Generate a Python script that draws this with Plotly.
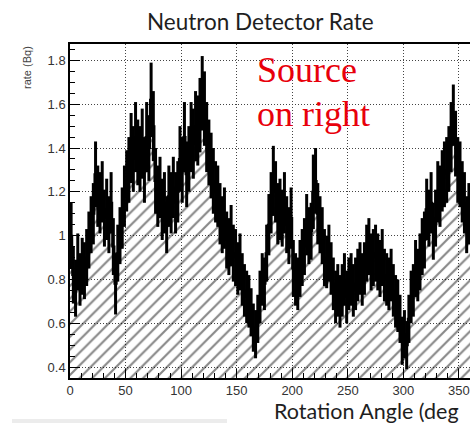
import plotly.graph_objects as go

# Histogram: 2-degree bins, 0..360 degrees
bin_width = 2
bin_centers = [1 + bin_width * i for i in range(180)]

rate = [
    1.00, 0.82, 0.76, 0.88, 0.80, 0.86, 0.84, 0.90, 0.98, 1.05,
    1.10, 1.28, 1.18, 1.15, 1.20, 1.08, 1.12, 1.05, 1.15, 0.95,
    0.78, 0.92, 1.00, 1.08, 1.18, 1.25, 1.30, 1.40, 1.35, 1.45,
    1.38, 1.35, 1.42, 1.30, 1.45, 1.40, 1.62, 1.50, 1.25, 1.18,
    1.22, 1.12, 1.15, 1.05, 1.18, 1.15, 1.22, 1.15, 1.20, 1.35,
    1.30, 1.45, 1.28, 1.35, 1.45, 1.42, 1.50, 1.48, 1.55, 1.65,
    1.58, 1.45, 1.38, 1.32, 1.25, 1.20, 1.18, 1.10, 1.05, 1.08,
    0.98, 0.95, 1.00, 0.92, 0.90, 0.85, 0.88, 0.80, 0.75, 0.72,
    0.70, 0.65, 0.58, 0.55, 0.62, 0.72, 0.80, 0.78, 0.92, 1.05,
    1.15, 1.25, 1.20, 1.10, 1.12, 1.08, 1.15, 1.05, 1.00, 1.08,
    0.85, 0.80, 0.78, 0.85, 0.90, 0.95, 1.05, 1.00, 1.02, 1.20,
    1.25, 1.10, 1.05, 1.00, 0.90, 0.88, 0.92, 0.85, 0.78, 0.72,
    0.75, 0.70, 0.75, 0.80, 0.72, 0.78, 0.80, 0.75, 0.78, 0.82,
    0.85, 0.80, 0.85, 0.92, 0.95, 0.88, 0.90, 0.92, 0.88, 0.85,
    0.90, 0.82, 0.80, 0.78, 0.82, 0.75, 0.70, 0.68, 0.62, 0.52,
    0.55, 0.50, 0.62, 0.72, 0.75, 0.85, 0.82, 0.88, 0.95, 0.98,
    1.12, 1.08, 1.15, 1.02, 1.08, 1.20, 1.18, 1.25, 1.28, 1.30,
    1.35, 1.45, 1.55, 1.42, 1.30, 1.28, 1.20, 1.15, 1.05, 1.10,
]

rate_err = [
    0.15, 0.13, 0.13, 0.13, 0.12, 0.13, 0.13, 0.13, 0.13, 0.13,
    0.14, 0.15, 0.14, 0.14, 0.14, 0.13, 0.14, 0.13, 0.14, 0.13,
    0.14, 0.13, 0.13, 0.14, 0.14, 0.14, 0.15, 0.16, 0.15, 0.16,
    0.15, 0.15, 0.16, 0.15, 0.16, 0.15, 0.17, 0.16, 0.15, 0.14,
    0.14, 0.14, 0.14, 0.13, 0.14, 0.14, 0.14, 0.14, 0.14, 0.15,
    0.15, 0.16, 0.15, 0.15, 0.16, 0.16, 0.16, 0.16, 0.17, 0.17,
    0.17, 0.16, 0.15, 0.15, 0.15, 0.14, 0.14, 0.14, 0.13, 0.14,
    0.13, 0.13, 0.14, 0.13, 0.13, 0.12, 0.13, 0.12, 0.12, 0.12,
    0.12, 0.11, 0.11, 0.11, 0.11, 0.12, 0.12, 0.12, 0.13, 0.14,
    0.14, 0.16, 0.14, 0.14, 0.14, 0.13, 0.14, 0.13, 0.13, 0.14,
    0.13, 0.12, 0.12, 0.13, 0.13, 0.13, 0.14, 0.13, 0.13, 0.17,
    0.15, 0.14, 0.13, 0.13, 0.13, 0.12, 0.13, 0.12, 0.12, 0.12,
    0.12, 0.12, 0.12, 0.12, 0.12, 0.12, 0.12, 0.12, 0.12, 0.12,
    0.12, 0.12, 0.12, 0.13, 0.13, 0.13, 0.13, 0.13, 0.13, 0.13,
    0.13, 0.12, 0.12, 0.12, 0.12, 0.12, 0.12, 0.12, 0.11, 0.11,
    0.11, 0.11, 0.11, 0.12, 0.12, 0.13, 0.12, 0.13, 0.13, 0.13,
    0.14, 0.13, 0.14, 0.13, 0.13, 0.14, 0.14, 0.14, 0.15, 0.15,
    0.15, 0.16, 0.14, 0.15, 0.15, 0.15, 0.14, 0.14, 0.13, 0.14,
]

y_ticks = [0.4, 0.6, 0.8, 1.0, 1.2, 1.4, 1.6, 1.8]
y_ticklabels = ["0.4", "0.6", "0.8", "1", "1.2", "1.4", "1.6", "1.8"]
x_ticks = [0, 50, 100, 150, 200, 250, 300, 350]

fig = go.Figure()

# hatched histogram body
fig.add_trace(go.Bar(
    x=bin_centers, y=rate, width=bin_width,
    marker=dict(
        color="rgba(255,255,255,0)",
        line=dict(width=0),
        pattern=dict(shape="/", fgcolor="#111", bgcolor="rgba(255,255,255,0)",
                     size=9, solidity=0.24),
    ),
    hoverinfo="skip", showlegend=False,
))

# outline + error bars
fig.add_trace(go.Scatter(
    x=bin_centers, y=rate, mode="lines",
    line=dict(color="black", width=2, shape="hvh"),
    error_y=dict(type="data", array=rate_err, thickness=3, width=0, color="black"),
    hoverinfo="skip", showlegend=False,
))

L, T, B = 70, 44, 45
W, H = 470, 423
pw, ph = W - L, H - T - B


def px(x):
    return (x - L) / pw


def py(y):
    return (H - B - y) / ph


fig.update_layout(
    width=W, height=H,
    margin=dict(l=L, r=0, t=T, b=B, autoexpand=False),
    paper_bgcolor="white", plot_bgcolor="white",
    bargap=0,
    xaxis=dict(
        range=[0, 360], tickvals=x_ticks, ticks="inside", ticklen=9, tickwidth=1,
        tickcolor="black", automargin=False,
        minor=dict(ticks="inside", ticklen=5, dtick=10, tick0=0, tickcolor="black", showgrid=False),
        showgrid=True, gridcolor="#444", griddash="1px,2px", gridwidth=1,
        showline=True, linecolor="black", linewidth=1.5, mirror=True,
        tickfont=dict(family="Liberation Sans, Arial", size=13, color="#333"),
        zeroline=False,
    ),
    yaxis=dict(
        range=[0.35, 1.875], tickvals=y_ticks, ticktext=y_ticklabels,
        ticks="inside", ticklen=10, tickwidth=1, tickcolor="black", automargin=False,
        minor=dict(ticks="inside", ticklen=5, dtick=0.05, tick0=0, tickcolor="black", showgrid=False),
        showgrid=True, gridcolor="#444", griddash="1px,2px", gridwidth=1,
        showline=True, linecolor="black", linewidth=1.5, mirror=True,
        tickfont=dict(family="Liberation Sans, Arial", size=13, color="#333"),
        ticklabelstandoff=0,
        zeroline=False,
    ),
    annotations=[
        dict(text="Neutron Detector Rate", xref="paper", yref="paper",
             x=px(260), y=py(21), xanchor="center", yanchor="middle", showarrow=False,
             font=dict(family="Lato", size=22.5, color="#1e1e1e")),
        dict(text="Rotation Angle (deg", xref="paper", yref="paper",
             x=px(460), y=py(411), xanchor="right", yanchor="middle", showarrow=False,
             borderpad=0,
             font=dict(family="Lato", size=21.5, color="#1e1e1e")),
        dict(text="rate (Bq)", xref="paper", yref="paper", textangle=-90,
             x=px(27), y=py(68), xanchor="center", yanchor="middle", showarrow=False,
             font=dict(family="Liberation Sans, Arial", size=11, color="#444")),
        dict(text="Source", xref="paper", yref="paper",
             x=px(255), y=py(70), xanchor="left", yanchor="middle", showarrow=False,
             font=dict(family="Liberation Serif, Times New Roman", size=36, color="#e8000b")),
        dict(text="on right", xref="paper", yref="paper",
             x=px(255), y=py(114), xanchor="left", yanchor="middle", showarrow=False,
             font=dict(family="Liberation Serif, Times New Roman", size=36, color="#e8000b")),
    ],
    shapes=[
        dict(type="rect", xref="paper", yref="paper",
             x0=px(12), x1=px(227), y0=py(423), y1=py(419),
             fillcolor="#ececec", line=dict(width=0), layer="below"),
    ],
)

fig.write_html(
    "out.html",
    config={"displayModeBar": False},
    post_script="document.documentElement.style.margin='0';document.body.style.margin='0';document.body.style.overflow='hidden';",
)
